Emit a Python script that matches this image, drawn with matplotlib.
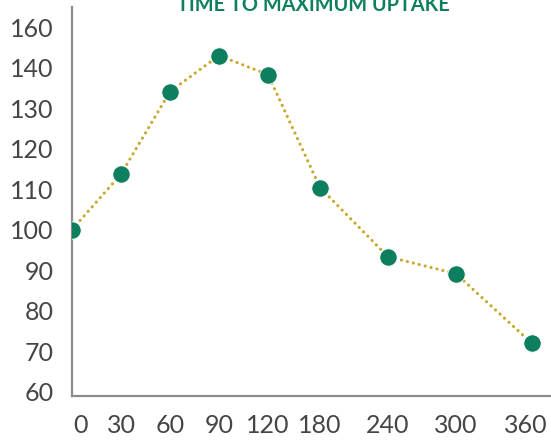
import matplotlib
matplotlib.use("Agg")
import matplotlib.pyplot as plt
import matplotlib.transforms as mtransforms
import numpy as np

minutes = [0, 30, 60, 90, 120, 180, 240, 300, 360]
uptake = [100, 113.7, 134.1, 143, 138.3, 110.4, 93.3, 89.1, 71.9]
y_ticks = [60, 70, 80, 90, 100, 110, 120, 130, 140, 150]
y_tick_labels = ["60", "70", "80", "90", "100", "110", "120", "130", "140", "160"]
title = "TIME TO MAXIMUM UPTAKE"

green = "#0e7f5e"
gold = "#c9a82c"
grey_text = "#454545"

# the source axis is stretched unevenly: early times are spaced wider
knots_in = [0, 120, 180, 300, 360, 480]
knots_out = [0, 196, 248, 384, 460, 612]


def fwd(v):
    return np.interp(v, knots_in, knots_out)


def inv(v):
    return np.interp(v, knots_out, knots_in)


plt.rcParams["font.family"] = ["Lato", "DejaVu Sans"]

fig = plt.figure(figsize=(5.51, 4.40), dpi=100)
ax = fig.add_axes([72 / 551, 44 / 440, 1 - 72 / 551, (396 - 7) / 440])
ax.set_xscale("function", functions=(fwd, inv))

ax.plot(minutes, uptake, color=gold, lw=2.3, linestyle=(0, (0.01, 1.9)),
        dash_capstyle="round", zorder=2)
ax.plot(minutes, uptake, "o", color=green, markersize=12.5, zorder=3,
        markeredgecolor="white", markeredgewidth=0.6)

ax.set_xlim(0, 375)
ax.set_ylim(58.9, 155)
ax.set_xticks(minutes)
ax.set_xticklabels([str(m) for m in minutes])
ax.set_yticks(y_ticks)
ax.set_yticklabels(y_tick_labels)

for s in ["top", "right"]:
    ax.spines[s].set_visible(False)
for s in ["left", "bottom"]:
    ax.spines[s].set_color("#8c8c8c")
    ax.spines[s].set_linewidth(1.6)

ax.tick_params(axis="both", length=0, labelsize=18, labelcolor=grey_text)
ax.tick_params(axis="y", pad=13)
ax.tick_params(axis="x", pad=13)

# end labels sit a little inward in the source
xlabs = ax.get_xticklabels()
xlabs[0].set_transform(xlabs[0].get_transform()
                       + mtransforms.ScaledTranslation(9 / 100, 0, fig.dpi_scale_trans))
xlabs[-1].set_transform(xlabs[-1].get_transform()
                        + mtransforms.ScaledTranslation(-6 / 100, 0, fig.dpi_scale_trans))

fig.text(313 / 551, 1 - 11 / 440, title, ha="center", va="baseline",
         color=green, fontsize=14.3, fontweight="bold")

fig.savefig("out.png", dpi=100)
